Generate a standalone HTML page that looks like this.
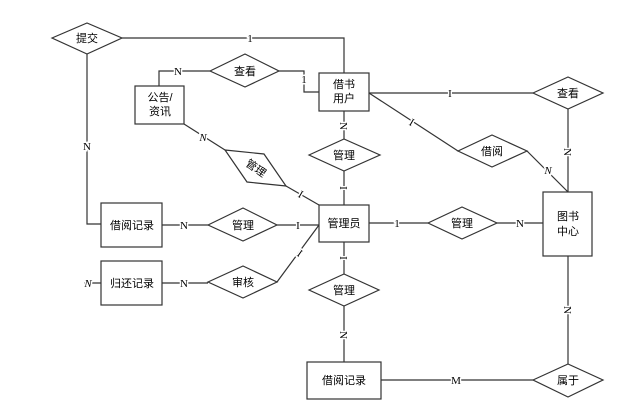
<!DOCTYPE html>
<html><head><meta charset="utf-8"><style>
html,body{margin:0;padding:0;background:#fff}
svg{display:block}
text{font-family:"Liberation Sans","Noto Sans CJK SC",sans-serif;font-size:11px;fill:#000}
.l{font-family:"Liberation Serif",serif;font-size:11px;paint-order:stroke;stroke:#fff;stroke-width:3px}
</style></head><body>
<svg width="628" height="413" viewBox="0 0 628 413" xmlns="http://www.w3.org/2000/svg">
<g fill="none" stroke="#333" stroke-width="1.2">
<!-- lines -->
<polyline points="122,38 344,38 344,73"/>
<polyline points="87,54 87,224 101,224"/>
<polyline points="210,71 159,71 159,86"/>
<polyline points="279,71 304,71 304,92 319,92"/>
<line x1="344" y1="111" x2="344" y2="139"/>
<line x1="344" y1="171" x2="344" y2="205"/>
<line x1="184" y1="124" x2="225" y2="150"/>
<line x1="286" y1="186" x2="319" y2="205"/>
<line x1="162" y1="225" x2="208" y2="225"/>
<line x1="277" y1="225" x2="319" y2="225"/>
<line x1="162" y1="283" x2="208" y2="283"/>
<line x1="277" y1="282" x2="319" y2="225"/>
<line x1="344" y1="242" x2="344" y2="274"/>
<line x1="344" y1="306" x2="344" y2="362"/>
<line x1="369" y1="93" x2="533" y2="93"/>
<line x1="568" y1="109" x2="568" y2="192"/>
<line x1="369" y1="93" x2="458" y2="151"/>
<line x1="527" y1="151" x2="568" y2="192"/>
<line x1="369" y1="223" x2="428" y2="223"/>
<line x1="497" y1="223" x2="543" y2="223"/>
<line x1="568" y1="256" x2="568" y2="364"/>
<line x1="381" y1="380" x2="533" y2="380"/>
<line x1="84" y1="283" x2="101" y2="283"/>
</g>
<g fill="#fff" stroke="#333" stroke-width="1.2">
<polygon points="52,38 87,23 122,38 87,54"/>
<polygon points="210,71 245,54 279,71 245,87"/>
<polygon points="309,155 344,139 380,155 344,171"/>
<polygon points="225,150 264,154 286,186 247,182"/>
<polygon points="208,225 243,208 277,225 243,241"/>
<polygon points="208,282 243,266 277,282 243,298"/>
<polygon points="309,290 344,274 379,290 344,306"/>
<polygon points="533,93 568,77 603,93 568,109"/>
<polygon points="458,151 492,135 527,151 492,167"/>
<polygon points="428,223 462,207 497,223 462,239"/>
<polygon points="533,380 568,364 603,380 568,397"/>
<rect x="319" y="73" width="50" height="38"/>
<rect x="135" y="86" width="49" height="38"/>
<rect x="101" y="203" width="61" height="44"/>
<rect x="101" y="261" width="61" height="44"/>
<rect x="319" y="205" width="50" height="37"/>
<rect x="307" y="362" width="74" height="37"/>
<rect x="543" y="192" width="49" height="64"/>
</g>
<g text-anchor="middle">
<text x="87" y="42">提交</text>
<text x="245" y="75">查看</text>
<text x="344" y="88">借书</text>
<text x="344" y="102">用户</text>
<text x="160" y="101">公告/</text>
<text x="160" y="115">资讯</text>
<text x="344" y="159">管理</text>
<text x="256" y="172" fill="#555" transform="rotate(35 256 168)">管理</text>
<text x="132" y="229">借阅记录</text>
<text x="243" y="229">管理</text>
<text x="132" y="287">归还记录</text>
<text x="243" y="286">审核</text>
<text x="344" y="227">管理员</text>
<text x="344" y="294">管理</text>
<text x="344" y="384">借阅记录</text>
<text x="568" y="97">查看</text>
<text x="492" y="155">借阅</text>
<text x="462" y="227">管理</text>
<text x="568" y="220">图书</text>
<text x="568" y="235">中心</text>
<text x="568" y="384">属于</text>
<text class="l" x="250" y="42">1</text>
<text class="l" x="87" y="150">N</text>
<text class="l" x="178" y="75">N</text>
<text class="l" x="304" y="83">1</text>
<text class="l" x="344" y="130" transform="rotate(90 344 126)">N</text>
<text class="l" x="344" y="192" transform="rotate(90 344 188)">I</text>
<text class="l" x="203" y="141" font-style="italic">N</text>
<text class="l" x="301" y="198" transform="rotate(30 301 194)">I</text>
<text class="l" x="184" y="229">N</text>
<text class="l" x="298" y="229">I</text>
<text class="l" x="184" y="287">N</text>
<text class="l" x="300" y="257" transform="rotate(35 300 253)">I</text>
<text class="l" x="88" y="287" font-style="italic">N</text>
<text class="l" x="344" y="262" transform="rotate(90 344 258)">I</text>
<text class="l" x="344" y="339" transform="rotate(90 344 335)">N</text>
<text class="l" x="397" y="227">1</text>
<text class="l" x="450" y="97">I</text>
<text class="l" x="412" y="126" transform="rotate(30 412 122)">I</text>
<text class="l" x="568" y="156" transform="rotate(90 568 152)">N</text>
<text class="l" x="548" y="174" font-style="italic">N</text>
<text class="l" x="520" y="227">N</text>
<text class="l" x="568" y="314" transform="rotate(90 568 310)">N</text>
<text class="l" x="456" y="384">M</text>
</g>
</svg>
</body></html>
